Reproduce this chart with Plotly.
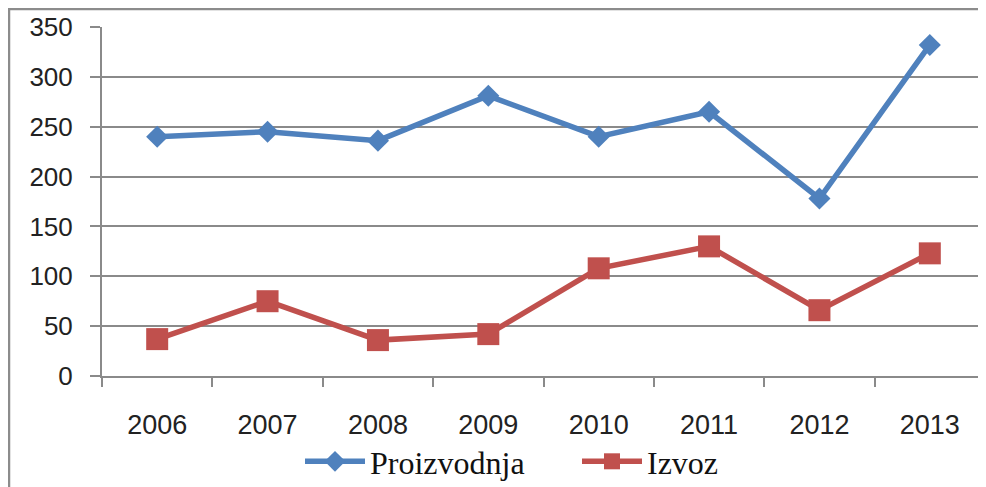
import plotly.graph_objects as go

years = ["2006", "2007", "2008", "2009", "2010", "2011", "2012", "2013"]
proizvodnja = [240, 245, 236, 281, 240, 265, 178, 332]
izvoz = [37, 75, 36, 42, 108, 130, 66, 123]
y_ticks = [0, 50, 100, 150, 200, 250, 300, 350]

blue = "#4F81BD"
red = "#C0504D"
grid = "#8A8A8A"

fig = go.Figure()
fig.add_trace(go.Scatter(
    x=years, y=proizvodnja, name="Proizvodnja", mode="lines+markers",
    line=dict(color=blue, width=5.5),
    marker=dict(symbol="diamond", size=17, color=blue),
    legend="legend",
))
fig.add_trace(go.Scatter(
    x=years, y=izvoz, name="Izvoz", mode="lines+markers",
    line=dict(color=red, width=5.5),
    marker=dict(symbol="square", size=22, color=red),
    legend="legend2",
))

legend_font = dict(family="Liberation Serif, Times New Roman, serif", size=32, color="#111111")

# page body has an 8px margin; compensate so the plot lands where the reference has it
fig.update_layout(
    width=978, height=479,
    margin=dict(l=94, r=1, t=19, b=111, autoexpand=False),
    paper_bgcolor="white", plot_bgcolor="white",
    font=dict(family="Liberation Sans, Arial, sans-serif", size=26, color="#222222"),
    showlegend=True,
    legend=dict(
        orientation="h", x=(300 - 102) / 883, xanchor="left", y=-0.245, yanchor="middle",
        font=legend_font, itemwidth=60, bgcolor="rgba(0,0,0,0)",
    ),
    legend2=dict(
        orientation="h", x=(577 - 102) / 883, xanchor="left", y=-0.245, yanchor="middle",
        font=legend_font, itemwidth=60, bgcolor="rgba(0,0,0,0)",
    ),
    shapes=[dict(
        type="rect", xref="paper", yref="paper",
        x0=-93/883, y0=(376-9)/349, x1=1.2, y1=-1.0,
        line=dict(color="#8C8C8C", width=2.5), fillcolor="rgba(0,0,0,0)", layer="below",
    )],
)
fig.update_xaxes(
    type="category", range=[-0.5, 7.5],
    showgrid=False, showline=True, linecolor=grid, linewidth=2,
    ticks="outside", ticklen=9, tickcolor=grid, tickwidth=2,
    tickson="boundaries", ticklabelstandoff=24,
    tickfont=dict(size=27),
)
fig.update_yaxes(
    range=[0, 350], tickvals=y_ticks,
    showgrid=True, gridcolor=grid, gridwidth=2,
    showline=True, linecolor=grid, linewidth=2,
    ticks="outside", ticklen=10, tickcolor=grid, tickwidth=2,
    ticklabelstandoff=12, zeroline=False,
    tickfont=dict(size=26),
)

fig.write_html("out.html")
